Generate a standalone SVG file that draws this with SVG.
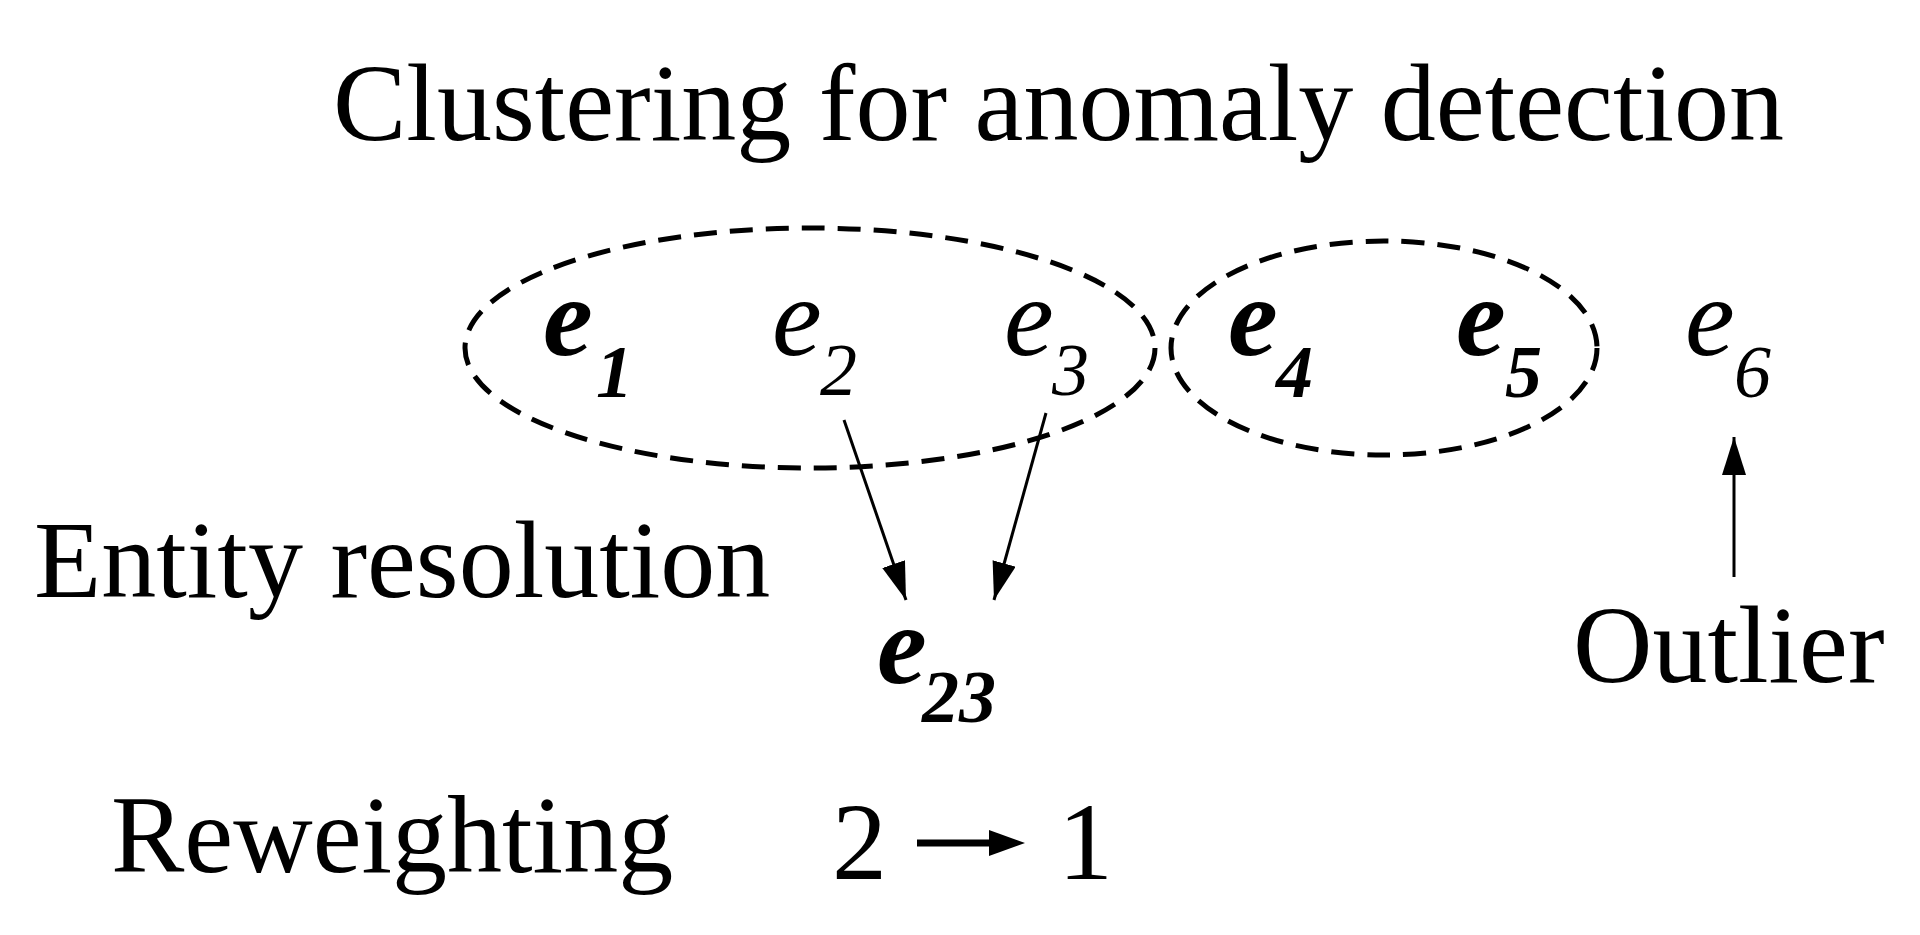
<svg xmlns="http://www.w3.org/2000/svg" width="1920" height="935" viewBox="0 0 1920 935">
<style>
text{font-family:"Liberation Serif","Times New Roman",serif;fill:#000}
.lbl{font-size:110px}
.ev{font-size:112px;font-style:italic}
.evb{font-size:112px;font-style:italic;font-weight:bold}
.sub{font-size:74px;font-style:italic}
.subb{font-size:74px;font-style:italic;font-weight:bold}
.clu{fill:none;stroke:#000;stroke-width:5;stroke-dasharray:23 13}
.con{fill:none;stroke:#000;stroke-width:3}
</style>
<defs>
<marker id="ah" markerUnits="userSpaceOnUse" markerWidth="40" markerHeight="26" refX="38" refY="12" orient="auto">
<path d="M0,0 L38,12 L0,24 z" fill="#000"/>
</marker>
</defs>
<rect width="1920" height="935" fill="#fff"/>
<g id="title"><text class="lbl" x="333" y="140">Clustering for anomaly detection</text></g>
<g id="cluster1"><ellipse class="clu" cx="810" cy="348" rx="345" ry="120"/></g>
<g id="cluster2"><ellipse class="clu" cx="1384" cy="348" rx="213" ry="107"/></g>
<g id="e1"><text class="evb" x="543" y="355">e</text><text class="subb" x="596" y="397">1</text></g>
<g id="e2"><text class="ev" x="772" y="355">e</text><text class="sub" x="820" y="395">2</text></g>
<g id="e3"><text class="ev" x="1004" y="355">e</text><text class="sub" x="1052" y="395">3</text></g>
<g id="e4"><text class="evb" x="1228" y="355">e</text><text class="subb" x="1276" y="397">4</text></g>
<g id="e5"><text class="evb" x="1456" y="355">e</text><text class="subb" x="1505" y="397">5</text></g>
<g id="e6"><text class="ev" x="1685" y="355">e</text><text class="sub" x="1734" y="397">6</text></g>
<g id="e23"><text class="evb" x="877" y="683">e</text><text class="subb" x="922" y="722">23</text></g>
<g id="entity-resolution"><text class="lbl" x="34" y="597">Entity resolution</text></g>
<g id="outlier"><text class="lbl" x="1573" y="682">Outlier</text></g>
<g id="reweighting"><text class="lbl" x="111" y="872">Reweighting</text></g>
<g id="weights">
<text class="lbl" x="832" y="879">2</text>
<line x1="917" y1="843" x2="995" y2="843" stroke="#000" stroke-width="7"/>
<path d="M989,830 L1025,843 L989,856 z" fill="#000"/>
<text class="lbl" x="1058" y="879">1</text>
</g>
<g id="connectors">
<line class="con" x1="844" y1="420" x2="906" y2="600" marker-end="url(#ah)"/>
<line class="con" x1="1046" y1="413" x2="994" y2="600" marker-end="url(#ah)"/>
<line class="con" x1="1734" y1="577" x2="1734" y2="437" marker-end="url(#ah)"/>
</g>
</svg>
